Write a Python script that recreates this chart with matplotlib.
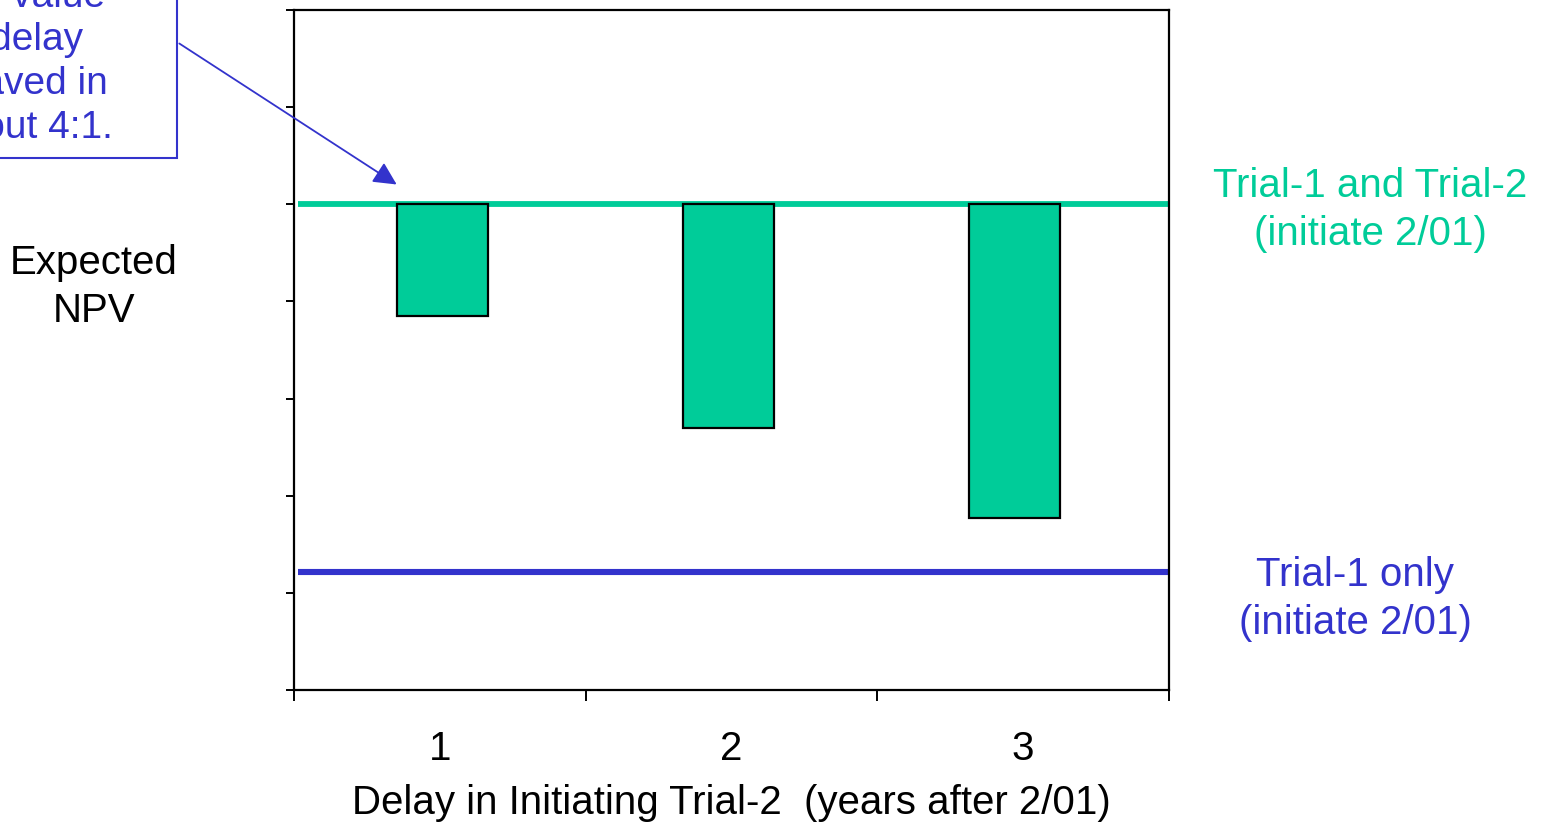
import matplotlib
matplotlib.use("Agg")
import matplotlib.pyplot as plt
from matplotlib.patches import Rectangle, FancyArrowPatch

plt.rcParams['font.family'] = ['Liberation Sans', 'DejaVu Sans']

# values (y axis has no labels, arbitrary units 0..7)
delays = ['1', '2', '3']
npv_both_now = 5.0          # Trial-1 and Trial-2 (initiate 2/01)
npv_trial1_only = 1.21      # Trial-1 only (initiate 2/01)
npv_delayed = [3.85, 2.70, 1.77]

green = '#00CC99'
blue = '#3333CC'

W, H = 1543, 822
fig = plt.figure(figsize=(W / 100, H / 100), dpi=100)
ax = fig.add_axes([294 / W, 1 - 690 / H, 875 / W, 680 / H])

ax.set_xlim(0, 3)
ax.set_ylim(0, 7)

# reference lines
ax.hlines(npv_both_now, 0.015, 2.995, color=green, lw=4.2, zorder=2)
ax.hlines(npv_trial1_only, 0.015, 2.995, color=blue, lw=4.4, zorder=2)

# drop in NPV for each delay
centers = [0.51 + 0.98 * i for i in range(len(delays))]
heights = [npv_both_now - v for v in npv_delayed]
ax.bar(centers, heights, bottom=npv_delayed, width=0.312, color=green,
       edgecolor='black', linewidth=1.6, zorder=3)

# axes styling
for s in ax.spines.values():
    s.set_linewidth(1.6)
ax.set_yticks(range(0, 8))
ax.set_yticklabels([])
ax.tick_params(axis='y', direction='out', length=6, width=1.4)
ax.set_xticks([0, 1, 2, 3])
ax.set_xticklabels([])
ax.tick_params(axis='x', which='major', direction='out', length=8, width=1.4)
ax.set_xticks([i + 0.5 for i in range(len(delays))], minor=True)
ax.set_xticklabels(delays, minor=True, fontsize=29)
ax.tick_params(axis='x', which='minor', length=0, pad=29)
ax.set_xlabel('Delay in Initiating Trial-2  (years after 2/01)', fontsize=29, labelpad=11)

# side labels
fig.text(94 / W, 1 - 287 / H, 'Expected\nNPV', ha='center', va='center',
         fontsize=29, linespacing=1.35)
fig.text(1370 / W, 1 - 210 / H, 'Trial-1 and Trial-2\n(initiate 2/01)', ha='center',
         va='center', fontsize=29, color=green, linespacing=1.35)
fig.text(1355 / W, 1 - 599 / H, 'Trial-1 only\n(initiate 2/01)', ha='center',
         va='center', fontsize=29, color=blue, linespacing=1.35)

# callout box (cut off at the top-left edge, as in the original slide)
fig.patches.append(Rectangle((-200 / W, 1 - 158 / H), 377 / W, 300 / H,
                             transform=fig.transFigure, facecolor='white',
                             edgecolor=blue, lw=1.5, zorder=5))
callout = [('Two value', 105, -3), ('of delay', 83, 40),
           ('saved in', 108, 84), ('about 4:1.', 113, 128)]
for txt, xe, yc in callout:
    fig.text(xe / W, 1 - yc / H, txt, ha='right', va='center', fontsize=28,
             color=blue, zorder=6)

arrow = FancyArrowPatch((177 / W, 1 - 42 / H), (399 / W, 1 - 186 / H),
                        transform=fig.transFigure, arrowstyle='-|>,head_length=14,head_width=7',
                        color=blue, lw=1.3, zorder=6)
fig.patches.append(arrow)

fig.savefig('out.png', dpi=100)
